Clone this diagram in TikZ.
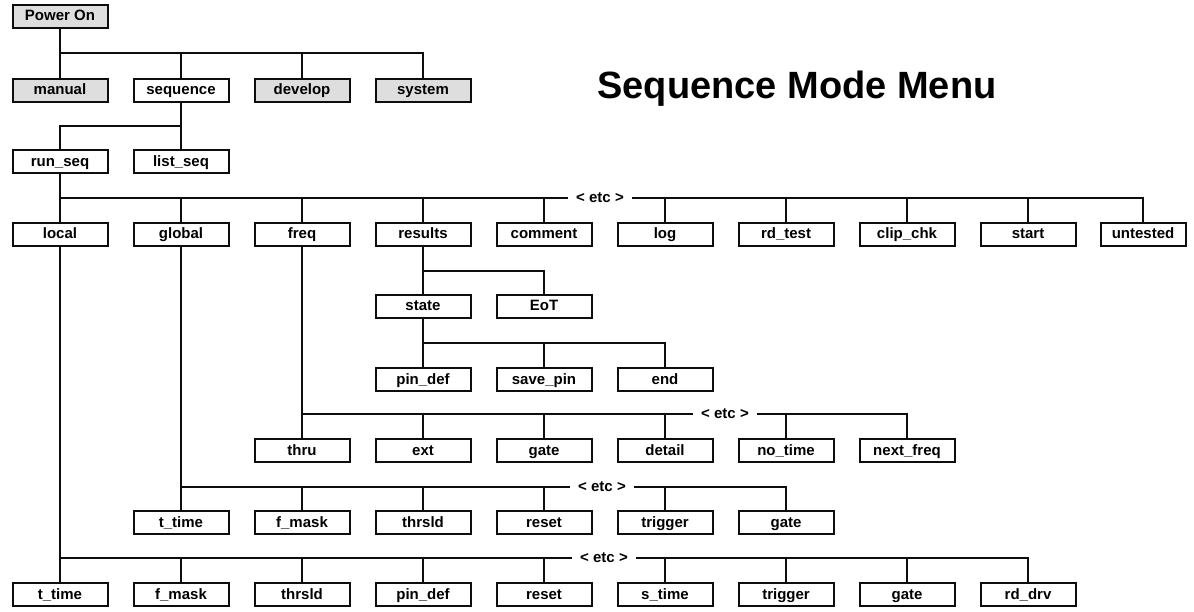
\documentclass[tikz,border=0pt]{standalone}
\usepackage{fontspec}
\setmainfont{Liberation Sans}
\usepackage{xcolor}
\definecolor{MShade}{gray}{0.87}
\definecolor{MLine}{gray}{0.05}

\begin{document}
\begin{tikzpicture}[
  x=1pt,y=-1pt,
  every node/.style={font=\fontsize{15}{16}\selectfont\bfseries},
  menu/.style={draw=MLine,line width=2pt,fill=white,
    minimum width=95pt,minimum height=23pt,inner sep=0pt,
    text height=10.5pt,text depth=1.5pt},
  other/.style={menu,fill=MShade},
  link/.style={line width=1.6pt,color=MLine},
  etc/.style={fill=white,inner xsep=8pt,inner ysep=1pt,
    text height=10.5pt,text depth=1.5pt}
]
  \useasboundingbox (0,0) rectangle (1194,612);
  \coordinate (b0) at (0,53);
  \coordinate (b1) at (0,126);
  \coordinate (b2) at (0,198);
  \coordinate (b3) at (0,271);
  \coordinate (b4) at (0,343);
  \coordinate (b5) at (0,414);
  \coordinate (b6) at (0,487);
  \coordinate (b7) at (0,558);

  \node[other] (pwron) at (60,16.5) {Power On};
  \node[font=\fontsize{38}{40}\selectfont\bfseries,anchor=base] (title)
    at (797,99) {Sequence Mode Menu};

  \node[other] (manual) at (60,90.5) {manual};
  \node[menu] (sequence) at (181,90.5) {sequence};
  \node[other] (develop) at (302,90.5) {develop};
  \node[other] (system) at (423,90.5) {system};

  \node[menu] (runseq) at (60,162) {run\_seq};
  \node[menu] (listseq) at (181,162) {list\_seq};

  \node[menu] (local) at (60,234.5) {local};
  \node[menu] (global) at (181,234.5) {global};
  \node[menu] (freq) at (302,234.5) {freq};
  \node[menu] (results) at (423,234.5) {results};
  \node[menu] (comment) at (544,234.5) {comment};
  \node[menu] (log) at (665,234.5) {log};
  \node[menu] (rdtest) at (786,234.5) {rd\_test};
  \node[menu] (clipchk) at (907,234.5) {clip\_chk};
  \node[menu] (start) at (1028,234.5) {start};
  \node[menu,minimum width=85pt] (untested) at (1143,234.5) {untested};

  \node[menu] (state) at (423,306.5) {state};
  \node[menu] (eot) at (544,306.5) {EoT};

  \node[menu] (pindef) at (423,379.5) {pin\_def};
  \node[menu] (savepin) at (544,379.5) {save\_pin};
  \node[menu] (pend) at (665,379.5) {end};

  \node[menu] (thru) at (302,450.5) {thru};
  \node[menu] (ext) at (423,450.5) {ext};
  \node[menu] (fgate) at (544,450.5) {gate};
  \node[menu] (detail) at (665,450.5) {detail};
  \node[menu] (notime) at (786,450.5) {no\_time};
  \node[menu] (nextfreq) at (907,450.5) {next\_freq};

  \node[menu] (gttime) at (181,522.5) {t\_time};
  \node[menu] (gfmask) at (302,522.5) {f\_mask};
  \node[menu] (gthrsld) at (423,522.5) {thrsld};
  \node[menu] (greset) at (544,522.5) {reset};
  \node[menu] (gtrigger) at (665,522.5) {trigger};
  \node[menu] (ggate) at (786,522.5) {gate};

  \node[menu] (lttime) at (60,594.5) {t\_time};
  \node[menu] (lfmask) at (181,594.5) {f\_mask};
  \node[menu] (lthrsld) at (302,594.5) {thrsld};
  \node[menu] (lpindef) at (423,594.5) {pin\_def};
  \node[menu] (lreset) at (544,594.5) {reset};
  \node[menu] (lstime) at (665,594.5) {s\_time};
  \node[menu] (ltrigger) at (786,594.5) {trigger};
  \node[menu] (lgate) at (907,594.5) {gate};
  \node[menu] (lrddrv) at (1028,594.5) {rd\_drv};

  \draw[link] (pwron) -- (manual);
  \draw[link] (manual |- b0) -| (system);
  \foreach \n in {sequence,develop}
    \draw[link] (\n |- b0) -- (\n);

  \draw[link] (sequence) -- (listseq);
  \draw[link] (listseq |- b1) -| (runseq);

  \draw[link] (runseq) -- (local);
  \draw[link] (local |- b2) -| (untested);
  \foreach \n in {global,freq,results,comment,log,rdtest,clipchk,start}
    \draw[link] (\n |- b2) -- (\n);

  \draw[link] (results) -- (state);
  \draw[link] (state |- b3) -| (eot);

  \draw[link] (state) -- (pindef);
  \draw[link] (pindef |- b4) -| (pend);
  \draw[link] (savepin |- b4) -- (savepin);

  \draw[link] (freq) -- (thru);
  \draw[link] (thru |- b5) -| (nextfreq);
  \foreach \n in {ext,fgate,detail,notime}
    \draw[link] (\n |- b5) -- (\n);

  \draw[link] (global) -- (gttime);
  \draw[link] (gttime |- b6) -| (ggate);
  \foreach \n in {gfmask,gthrsld,greset,gtrigger}
    \draw[link] (\n |- b6) -- (\n);

  \draw[link] (local) -- (lttime);
  \draw[link] (lttime |- b7) -| (lrddrv);
  \foreach \n in {lfmask,lthrsld,lpindef,lreset,lstime,ltrigger,lgate}
    \draw[link] (\n |- b7) -- (\n);

  \node[etc] (etcrun) at (600,198) {< etc >};
  \node[etc] (etcfreq) at (725,414) {< etc >};
  \node[etc] (etcglob) at (602,487) {< etc >};
  \node[etc] (etcloc) at (604,558) {< etc >};
\end{tikzpicture}
\end{document}
